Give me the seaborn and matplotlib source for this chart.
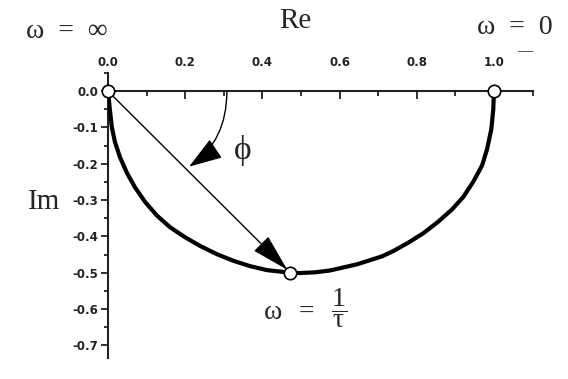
import matplotlib
matplotlib.use("Agg")
import matplotlib.pyplot as plt
import seaborn as sns
import pandas as pd
from matplotlib.patches import FancyArrowPatch
from matplotlib.ticker import MultipleLocator, FixedLocator, FixedFormatter

# ---- data ----
curve_re = [0.0, 0.005, 0.010, 0.018, 0.031, 0.049, 0.070, 0.096, 0.127, 0.161,
            0.199, 0.238, 0.282, 0.324, 0.368, 0.412, 0.472, 0.497, 0.536, 0.575,
            0.645, 0.710, 0.738, 0.777, 0.816, 0.855, 0.891, 0.920, 0.946, 0.969,
            0.982, 0.993, 0.998, 1.0]
curve_im = [0.0, -0.052, -0.100, -0.140, -0.182, -0.225, -0.265, -0.305, -0.343, -0.375,
            -0.402, -0.426, -0.449, -0.467, -0.482, -0.493, -0.500, -0.501, -0.499, -0.494,
            -0.477, -0.455, -0.441, -0.418, -0.392, -0.360, -0.326, -0.292, -0.250, -0.205,
            -0.160, -0.105, -0.052, 0.0]
marker_re = [0.0, 1.0, 0.472]
marker_im = [0.0, 0.0, -0.500]
x_ticks = [0.0, 0.2, 0.4, 0.6, 0.8, 1.0]
x_tick_labels = ["0.0", "0.2", "0.4", "0.6", "0.8", "1.0"]
y_ticks = [0.0, -0.1, -0.2, -0.3, -0.4, -0.5, -0.6, -0.7]
y_tick_labels = ["0.0", "-0.1", "-0.2", "-0.3", "-0.4", "-0.5", "-0.6", "-0.7"]
phi_start = (0.308, 0.0)
phi_end = (0.21, -0.208)

sns.set_theme(style="white")
plt.rcParams["font.family"] = ["DejaVu Sans"]
plt.rcParams["mathtext.fontset"] = "custom"
plt.rcParams["mathtext.rm"] = "Liberation Serif"
plt.rcParams["mathtext.it"] = "Liberation Serif:italic"

W, H = 568, 379
fig = plt.figure(figsize=(W / 100, H / 100), dpi=100)
fig.patch.set_facecolor("white")
ax = fig.add_axes([108 / W, 21 / H, 424.6 / W, 285 / H])
ax.set_facecolor("white")

curve = pd.DataFrame({"Re": curve_re, "Im": curve_im})
sns.lineplot(data=curve, x="Re", y="Im", sort=False, color="black",
             linewidth=3.0, ax=ax, zorder=3, solid_joinstyle="round")

# diagonal arrow to omega = 1/tau
ax.add_patch(FancyArrowPatch((marker_re[0], marker_im[0]), (marker_re[2], marker_im[2]),
                             arrowstyle="-|>,head_length=2.4,head_width=0.65",
                             mutation_scale=10, color="black", linewidth=1.0,
                             shrinkA=0, shrinkB=3, zorder=4))
# curved phi arrow
ax.add_patch(FancyArrowPatch(phi_start, phi_end,
                             connectionstyle="angle3,angleA=90,angleB=34",
                             arrowstyle="-|>,head_length=2.1,head_width=0.7",
                             mutation_scale=10, color="black", linewidth=1.0,
                             shrinkA=0, shrinkB=0, zorder=4))

mk = pd.DataFrame({"Re": marker_re, "Im": marker_im})
sns.scatterplot(data=mk, x="Re", y="Im", s=80, color="white", edgecolor="black",
                linewidth=1.2, ax=ax, zorder=5, clip_on=False)

ax.set_xlim(0, 1.1)
ax.set_ylim(-0.735, 0.05)
ax.set_xlabel("")
ax.set_ylabel("")

for s in ["right", "bottom"]:
    ax.spines[s].set_visible(False)
ax.spines["top"].set_position(("data", 0))
for s in ["top", "left"]:
    ax.spines[s].set_color("#222222")
    ax.spines[s].set_linewidth(1.5)

ax.xaxis.set_ticks_position("top")
ax.xaxis.set_major_locator(FixedLocator(x_ticks))
ax.xaxis.set_major_formatter(FixedFormatter(x_tick_labels))
ax.xaxis.set_minor_locator(MultipleLocator(0.1))
ax.yaxis.set_major_locator(FixedLocator(y_ticks))
ax.yaxis.set_major_formatter(FixedFormatter(y_tick_labels))
ax.yaxis.set_minor_locator(MultipleLocator(0.05))

ax.tick_params(axis="x", which="both", direction="in", top=True, bottom=False,
               labeltop=True, labelbottom=False, color="#222222", width=1.3,
               pad=16, labelsize=8.5, labelcolor="#222222")
ax.tick_params(axis="x", which="major", length=6)
ax.tick_params(axis="x", which="minor", length=3.5)
ax.tick_params(axis="y", which="both", direction="out", left=True, color="#222222",
               width=1.3, pad=2, labelsize=8.5, labelcolor="#222222")
ax.tick_params(axis="y", which="major", length=5)
ax.tick_params(axis="y", which="minor", length=3)
for lab in ax.get_xticklabels() + ax.get_yticklabels():
    lab.set_fontweight("bold")

serif = ["Liberation Serif", "DejaVu Serif"]
fig.text(67 / W, 1 - 31 / H, "ω  =  ∞", family=serif, fontsize=20, ha="center", va="center")
fig.text(295 / W, 1 - 21 / H, "Re", family=serif, fontsize=21, ha="center", va="center")
fig.text(515 / W, 1 - 28 / H, "ω  =  0", family=serif, fontsize=20, ha="center", va="center")
fig.text(525 / W, 1 - 52 / H, "—", family=serif, fontsize=11, fontweight="bold",
         ha="center", va="center")
fig.text(44 / W, 1 - 202 / H, "Im", family=serif, fontsize=21, ha="center", va="center")
fig.text(243 / W, 1 - 150 / H, "ϕ", family=serif, fontsize=24, ha="center", va="center")
fig.text(305 / W, 1 - 308 / H, r"$\mathrm{\omega\ \ =\ \ \dfrac{1}{\tau}}$",
         fontsize=20, ha="center", va="center")

fig.savefig("out.png", dpi=100, facecolor="white")
